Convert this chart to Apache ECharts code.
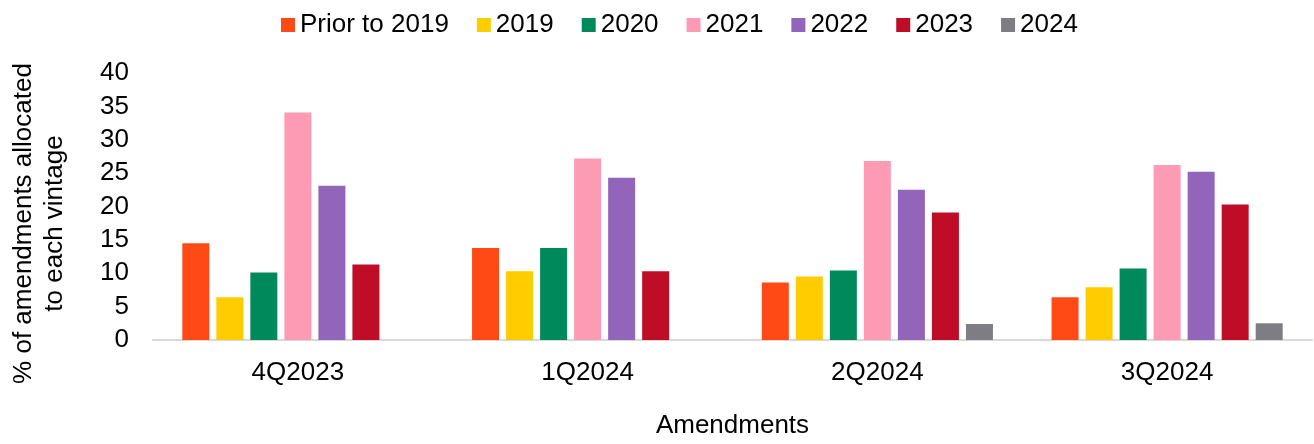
<!DOCTYPE html>
<html>
<head>
<meta charset="utf-8">
<script src="https://cdn.jsdelivr.net/npm/echarts@6/dist/echarts.min.js"></script>
<style>
html,body{margin:0;padding:0;background:#fff;overflow:hidden;}
#chart{width:1314px;height:444px;}
</style>
</head>
<body>
<div id="chart"></div>
<script>
const categories = ['4Q2023', '1Q2024', '2Q2024', '3Q2024'];
const seriesNames = ['Prior to 2019', '2019', '2020', '2021', '2022', '2023', '2024'];
const priorTo2019 = [14.5, 13.8, 8.6, 6.4];
const v2019 = [6.4, 10.3, 9.5, 7.9];
const v2020 = [10.1, 13.8, 10.4, 10.7];
const v2021 = [34.1, 27.2, 26.8, 26.2];
const v2022 = [23.1, 24.3, 22.5, 25.2];
const v2023 = [11.3, 10.3, 19.1, 20.3];
const v2024 = [null, null, 2.4, 2.5];
const yTicks = [0, 5, 10, 15, 20, 25, 30, 35, 40];

const seriesData = [priorTo2019, v2019, v2020, v2021, v2022, v2023, v2024];
const colors = ['#FF4A15', '#FFCC00', '#00895A', '#FD9BB4', '#9265BB', '#BF0D28', '#7E7D83'];
const font = '"Liberation Sans", Arial, sans-serif';

const chart = echarts.init(document.getElementById('chart'), null, {renderer: 'canvas'});
chart.setOption({
  animation: false,
  color: colors,
  textStyle: {fontFamily: font},
  legend: {
    left: 276,
    top: 7,
    itemWidth: 14,
    itemHeight: 14,
    itemGap: 28,
    icon: 'rect',
    textStyle: {fontSize: 26, color: '#000', fontFamily: font},
    data: seriesNames
  },
  grid: {left: 151, right: 2, top: 73, bottom: 100, containLabel: false},
  xAxis: {
    type: 'category',
    data: categories,
    axisTick: {show: false},
    axisLine: {lineStyle: {color: '#d9d9d9', width: 2}},
    axisLabel: {fontSize: 26, color: '#000', margin: 20, fontFamily: font},
    name: 'Amendments',
    nameLocation: 'middle',
    nameGap: 73,
    nameTextStyle: {fontSize: 26, color: '#000', fontFamily: font}
  },
  yAxis: {
    type: 'value',
    min: yTicks[0],
    max: yTicks[yTicks.length - 1],
    interval: 5,
    splitLine: {show: false},
    axisLine: {show: false},
    axisTick: {show: false},
    axisLabel: {fontSize: 26, color: '#000', margin: 24, fontFamily: font},
    name: '% of amendments allocated\nto each vintage',
    nameLocation: 'middle',
    nameGap: 83,
    nameTextStyle: {fontSize: 26, color: '#000', lineHeight: 31, fontFamily: font, align: 'center', padding: [0, 34, 0, 0]}
  },
  series: seriesNames.map((n, i) => ({
    name: n,
    type: 'bar',
    data: seriesData[i],
    barWidth: 27,
    barGap: '26%',
    itemStyle: {color: colors[i]}
  }))
});
</script>
</body>
</html>
